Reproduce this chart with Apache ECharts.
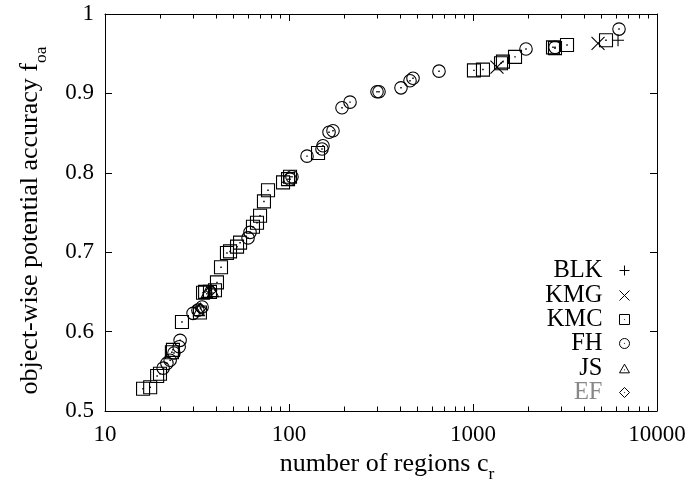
<!DOCTYPE html>
<html><head><meta charset="utf-8">
<script src="https://cdn.jsdelivr.net/npm/echarts@6/dist/echarts.min.js"></script>
<style>html,body{margin:0;padding:0;background:#fff}#c{width:690px;height:489px}</style>
</head><body><div id="c"></div>
<script>
// ---- data (number of regions, object-wise potential accuracy) ----
const blkData = [[6140, 0.967]];
const kmgData = [[1350, 0.933], [4780, 0.963]];
const kmcData = [
  [16.1, 0.528], [17.6, 0.530], [19.2, 0.544], [19.9, 0.547], [23.1, 0.574], [23.4, 0.577],
  [26.2, 0.612], [32.8, 0.624], [34.1, 0.649], [35.0, 0.650], [37.2, 0.650], [39.6, 0.652],
  [40.6, 0.662], [42.7, 0.681], [46.0, 0.699], [47.8, 0.701], [52.2, 0.707], [54.2, 0.712],
  [63.7, 0.732], [67.0, 0.737], [69.6, 0.746], [73.1, 0.764], [76.9, 0.778], [92.8, 0.788],
  [98.8, 0.792], [101.3, 0.795], [143.8, 0.825], [1012, 0.929], [1133, 0.930], [1420, 0.938],
  [1455, 0.940], [1692, 0.946], [2721, 0.958], [2790, 0.957], [3243, 0.961], [5283, 0.967]
];
const fhData = [
  [20.7, 0.554], [21.7, 0.560], [22.6, 0.564], [23.7, 0.573], [25.3, 0.581], [25.6, 0.589],
  [30.1, 0.623], [32.0, 0.627], [33.7, 0.631], [59.9, 0.718], [61.4, 0.725], [101.3, 0.792],
  [103.8, 0.795], [125.3, 0.821], [151.1, 0.830], [153.0, 0.834], [165.0, 0.851], [173.4, 0.853],
  [194.1, 0.882], [214.6, 0.889], [300.8, 0.902], [308.4, 0.902], [406.1, 0.907], [454.6, 0.916],
  [472.0, 0.919], [653.6, 0.928], [1941, 0.956], [2791, 0.958], [6216, 0.981]
];
const jsData = [[32.4, 0.627], [35.8, 0.650], [38.6, 0.651]];
const efData = [[33.0, 0.629], [37.8, 0.652]];

const seriesNames = ['BLK', 'KMG', 'KMC', 'FH', 'JS', 'EF'];
const xMajorTicks = [10, 100, 1000, 10000];
const xMinorTicks = [20, 30, 40, 50, 60, 70, 80, 90, 200, 300, 400, 500, 600, 700, 800, 900,
  2000, 3000, 4000, 5000, 6000, 7000, 8000, 9000];
const yMin = 0.5, yMax = 1, yStep = 0.1;

// ---- styling ----
const FONT = 'Liberation Serif';
const dot = 'M4.85,4.85L5.15,4.85L5.15,5.15L4.85,5.15Z';
const SYM = {
  BLK: 'path://M5,0L5,10M0,5L10,5',
  KMG: 'path://M0,0L10,10M10,0L0,10',
  KMC: 'path://M0,0L10,0L10,10L0,10Z' + dot,
  FH: 'path://M0,5A5,5,0,1,1,10,5A5,5,0,1,1,0,5Z' + dot,
  JS: 'path://M5,0L10,8.66L0,8.66ZM4.85,5.6L5.15,5.6L5.15,5.9L4.85,5.9Z',
  EF: 'path://M5,0L10,5L5,10L0,5Z' + dot
};
const SIZE = {BLK: 12, KMG: 13, KMC: 13, FH: 12.5, JS: 11, EF: 11};
const DATA = {BLK: blkData, KMG: kmgData, KMC: kmcData, FH: fhData, JS: jsData, EF: efData};

const lg10 = v => Math.log10(v);
const mkSeries = name => ({
  name, type: 'scatter', xAxisIndex: 0, yAxisIndex: 0,
  data: DATA[name], symbol: SYM[name], symbolSize: SIZE[name],
  itemStyle: {color: 'none', borderColor: '#000', borderWidth: 1.1, opacity: 1},
  emphasis: {disabled: true}, z: 3
});

const legendTops = [258, 283, 307, 331, 356, 380];
const legends = seriesNames.map((n, i) => ({
  data: [n], orient: 'vertical', right: 58, top: legendTops[i], padding: 0,
  align: 'right', itemWidth: 10, itemHeight: 10, selectedMode: false,
  itemStyle: {borderWidth: 1, borderColor: '#000', color: 'none'},
  textStyle: {fontFamily: FONT, fontSize: 24.5, color: n === 'EF' ? '#888' : '#000', padding: [0, 12, 0, 0]}
}));

const axisLineStyle = {color: '#000', width: 1};
const tickStyle = {color: '#000', width: 1};
const titleRich = {
  a: {fontFamily: FONT, fontSize: 26, color: '#000', lineHeight: 33, verticalAlign: 'top'},
  b: {fontFamily: FONT, fontSize: 17.5, color: '#000', lineHeight: 17.5, verticalAlign: 'bottom'}
};

const option = {
  animation: false,
  backgroundColor: '#fff',
  grid: {left: 105, right: 33, top: 14, bottom: 78, containLabel: false},
  legend: legends,
  xAxis: [
    {type: 'log', logBase: 10, min: 10, max: 10000, position: 'bottom',
     axisLine: {show: true, onZero: false, lineStyle: axisLineStyle},
     axisTick: {show: true, inside: true, length: 7, lineStyle: tickStyle},
     axisLabel: {show: true, color: '#000', fontFamily: FONT, fontSize: 23, margin: 12,
       formatter: v => String(Math.round(v))},
     splitLine: {show: false},
     name: '{a|number of regions c}{b|r}', nameLocation: 'middle', nameGap: 39,
     nameTextStyle: {rich: titleRich, padding: [0, 0, 0, 12]}},
    {type: 'value', min: lg10(10), max: lg10(10000), position: 'bottom',
     axisLine: {show: false}, axisLabel: {show: false}, splitLine: {show: false},
     axisTick: {show: true, inside: true, length: 4.5, lineStyle: tickStyle, customValues: xMinorTicks.map(lg10)}},
    {type: 'log', logBase: 10, min: 10, max: 10000, position: 'top',
     axisLine: {show: true, onZero: false, lineStyle: axisLineStyle},
     axisTick: {show: true, inside: true, length: 7, lineStyle: tickStyle},
     axisLabel: {show: false}, splitLine: {show: false}},
    {type: 'value', min: lg10(10), max: lg10(10000), position: 'top',
     axisLine: {show: false}, axisLabel: {show: false}, splitLine: {show: false},
     axisTick: {show: true, inside: true, length: 4.5, lineStyle: tickStyle, customValues: xMinorTicks.map(lg10)}}
  ],
  yAxis: [
    {type: 'value', min: yMin, max: yMax, interval: yStep, position: 'left',
     axisLine: {show: true, onZero: false, lineStyle: axisLineStyle},
     axisTick: {show: true, inside: true, length: 7, lineStyle: tickStyle},
     axisLabel: {show: true, color: '#000', fontFamily: FONT, fontSize: 23, margin: 11},
     splitLine: {show: false},
     name: '{a|object-wise potential accuracy f}{b|oa}', nameLocation: 'middle', nameGap: 55,
     nameTextStyle: {rich: titleRich, padding: [0, 16, 0, 0]}},
    {type: 'value', min: yMin, max: yMax, interval: yStep, position: 'right',
     axisLine: {show: true, onZero: false, lineStyle: axisLineStyle},
     axisTick: {show: true, inside: true, length: 7, lineStyle: tickStyle},
     axisLabel: {show: false}, splitLine: {show: false}}
  ],
  series: seriesNames.map(mkSeries)
};

const chart = echarts.init(document.getElementById('c'), null, {renderer: 'canvas'});
chart.setOption(option);
</script>
</body></html>
